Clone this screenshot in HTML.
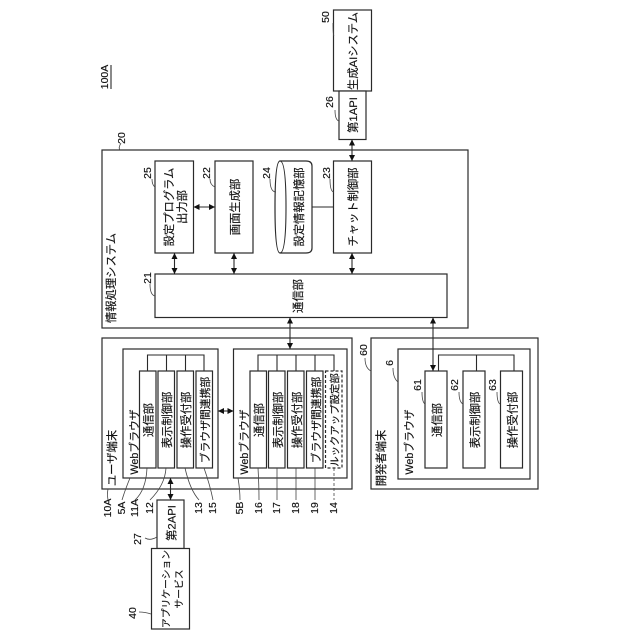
<!DOCTYPE html>
<html><head><meta charset="utf-8"><style>
html,body{margin:0;padding:0;background:#fff}
svg{display:block}
text{font-family:"Liberation Sans","Noto Sans CJK JP",sans-serif;font-size:11.3px;fill:#111;stroke:#111;stroke-width:.15;text-anchor:middle;dominant-baseline:central}
.n{font-size:10.5px}
.b{fill:#fff;stroke:#2a2a2a;stroke-width:1.2}
.l{fill:none;stroke:#2a2a2a;stroke-width:1.1}
.t{fill:none;stroke:#444;stroke-width:.8}
</style></head><body>
<svg width="640" height="640" viewBox="0 0 640 640" xmlns="http://www.w3.org/2000/svg">
<defs><marker id="a" viewBox="0 0 6 6" refX="6" refY="3" markerWidth="6" markerHeight="6" markerUnits="userSpaceOnUse" orient="auto-start-reverse"><path d="M0 0L6 3L0 6Z" fill="#111"/></marker></defs>

<!-- outer boxes -->
<rect class="b" x="102" y="150" width="366" height="178"/>
<rect class="b" x="102" y="338" width="250" height="151"/>
<rect class="b" x="371" y="338" width="167" height="151"/>
<rect class="b" x="123" y="349" width="95" height="129"/>
<rect class="b" x="233.500" y="349" width="113.500" height="129"/>
<rect class="b" x="398" y="349" width="132" height="130"/>

<!-- system blocks -->
<rect class="b" x="155" y="161" width="38.500" height="92"/>
<rect class="b" x="215" y="161" width="38" height="92"/>
<rect class="b" x="333.500" y="161" width="38" height="92"/>
<rect class="b" x="155" y="274" width="292" height="43.500"/>
<path class="b" d="M280 161H306Q312 161 312 166V248Q312 253 306 253H280Q275 253 275 207Q275 161 280 161Z"/>
<path class="l" d="M280 161Q286 161 286 207Q286 253 280 253"/>
<path class="l" d="M312 207H333.500"/>

<!-- top -->
<rect class="b" x="333.500" y="10" width="38" height="81"/>
<rect class="b" x="339" y="91" width="27" height="48.500"/>

<!-- bottom -->
<rect class="b" x="157" y="500" width="27" height="48.500"/>
<rect class="b" x="151.500" y="548.500" width="38" height="80.500"/>

<!-- buses -->
<path class="l" d="M147.500 371V355H204V371M166.500 355V371M185.500 355V371"/>
<path class="l" d="M258 371V355H334V371M277 355V371M296 355V371M315 355V371"/>
<path class="l" d="M438.500 371V355H514V371M476.500 355V371"/>

<!-- 5A blocks -->
<rect class="b" x="139.500" y="371" width="16.500" height="97"/>
<rect class="b" x="158" y="371" width="16.500" height="97"/>
<rect class="b" x="177" y="371" width="16.500" height="97"/>
<rect class="b" x="196" y="371" width="16.500" height="97"/>
<!-- 5B blocks -->
<rect class="b" x="250" y="371" width="16.500" height="97"/>
<rect class="b" x="268.500" y="371" width="16.500" height="97"/>
<rect class="b" x="287.500" y="371" width="16.500" height="97"/>
<rect class="b" x="306.500" y="371" width="16.500" height="97"/>
<rect class="b" x="325.500" y="371" width="16.500" height="97" stroke-dasharray="3 2"/>
<!-- dev blocks -->
<rect class="b" x="425" y="371" width="22" height="97"/>
<rect class="b" x="463" y="371" width="22" height="97"/>
<rect class="b" x="500.500" y="371" width="22" height="97"/>

<!-- arrows -->
<g class="l" marker-start="url(#a)" marker-end="url(#a)">
<path d="M193.500 207H215"/>
<path d="M174.500 253V274"/>
<path d="M234 253V274"/>
<path d="M352 253V274"/>
<path d="M352 139.500V161"/>
<path d="M290 317.500V349"/>
<path d="M433 317.500V371"/>
<path d="M218 411H233.500"/>
<path d="M170.500 478V500"/>
</g>

<!-- leader lines -->
<g class="t">
<path d="M121 143Q118 148 120 150"/>
<path d="M152 179Q152 185 155 187"/>
<path d="M210 179Q210 185 215 187"/>
<path d="M270 179Q270 192 276 192"/>
<path d="M330 179Q330 192 334 192"/>
<path d="M150 284Q150 295 155 296"/>
<path d="M333 23Q333 35 334 36"/>
<path d="M335 110Q335 120 339 121"/>
<path d="M365 358Q365 368 371 371"/>
<path d="M393 368Q393 378 398 382"/>
<path d="M422 392Q422 402 425 404"/>
<path d="M459 392Q459 402 463 404"/>
<path d="M497 392Q497 402 500 404"/>
<path d="M108 489Q107 494 108 500"/>
<path d="M130 478Q125 490 122 500"/>
<path d="M147 468Q146 490 135 500"/>
<path d="M166 468Q165 485 150 500"/>
<path d="M185 468Q190 490 199 500"/>
<path d="M204 468Q210 485 213 500"/>
<path d="M238 478Q240 490 240 500"/>
<path d="M258 468Q259 485 259 500"/>
<path d="M277 468V500"/>
<path d="M296 468V500"/>
<path d="M315 468V500"/>
<path d="M334 468V500" stroke-dasharray="3 2"/>
<path d="M157 537Q150 541 145 538"/>
<path d="M151 614Q145 612 139 612"/>
</g>

<!-- labels in boxes -->
<g transform="translate(1.8,0)">
<text transform="translate(110,278) rotate(-90)">情報処理システム</text>
<text transform="translate(168,207) rotate(-90)">設定プログラム</text>
<text transform="translate(181,207) rotate(-90)">出力部</text>
<text transform="translate(234,207) rotate(-90)">画面生成部</text>
<text transform="translate(298,207) rotate(-90)">設定情報記憶部</text>
<text transform="translate(352,207) rotate(-90)">チャット制御部</text>
<text transform="translate(297,296) rotate(-90)">通信部</text>
<text transform="translate(352,115) rotate(-90)">第1API</text>
<text transform="translate(352,51) rotate(-90)">生成AIシステム</text>

<text transform="translate(111,458) rotate(-90)">ユーザ端末</text>
<text transform="translate(133,442) rotate(-90)" style="font-size:10.8px">Webブラウザ</text>
<text transform="translate(147.500,420) rotate(-90)">通信部</text>
<text transform="translate(166,420) rotate(-90)">表示制御部</text>
<text transform="translate(185,420) rotate(-90)">操作受付部</text>
<text transform="translate(204,420) rotate(-90)" style="font-size:10.8px">ブラウザ間連携部</text>

<text transform="translate(243,442) rotate(-90)" style="font-size:10.8px">Webブラウザ</text>
<text transform="translate(258,420) rotate(-90)">通信部</text>
<text transform="translate(277,420) rotate(-90)">表示制御部</text>
<text transform="translate(296,420) rotate(-90)">操作受付部</text>
<text transform="translate(315,420) rotate(-90)" style="font-size:10.8px">ブラウザ間連携部</text>
<text transform="translate(334,420) rotate(-90)" style="font-size:10.4px">ルックアップ設定部</text>

<text transform="translate(380,458) rotate(-90)">開発者端末</text>
<text transform="translate(408,442) rotate(-90)" style="font-size:10.8px">Webブラウザ</text>
<text transform="translate(436,420) rotate(-90)">通信部</text>
<text transform="translate(474,420) rotate(-90)">表示制御部</text>
<text transform="translate(511.500,420) rotate(-90)">操作受付部</text>

<text transform="translate(170.500,523) rotate(-90)">第2API</text>
<text transform="translate(165,589) rotate(-90)" style="font-size:9.8px">アプリケーション</text>
<text transform="translate(178,589) rotate(-90)" style="font-size:9.8px">サービス</text>
</g>

<!-- reference numerals -->
<g>
<text class="n" transform="translate(105,77) rotate(-90)">100A</text>
<path class="l" d="M111 65V89"/>
<text class="n" transform="translate(122,138) rotate(-90)">20</text>
<text class="n" transform="translate(148,173) rotate(-90)">25</text>
<text class="n" transform="translate(207,173) rotate(-90)">22</text>
<text class="n" transform="translate(267,173) rotate(-90)">24</text>
<text class="n" transform="translate(327,173) rotate(-90)">23</text>
<text class="n" transform="translate(148,278) rotate(-90)">21</text>
<text class="n" transform="translate(330,102) rotate(-90)">26</text>
<text class="n" transform="translate(326,17) rotate(-90)">50</text>
<text class="n" transform="translate(364,350) rotate(-90)">60</text>
<text class="n" transform="translate(390,363) rotate(-90)">6</text>
<text class="n" transform="translate(418,385) rotate(-90)">61</text>
<text class="n" transform="translate(455,385) rotate(-90)">62</text>
<text class="n" transform="translate(493,385) rotate(-90)">63</text>
<text class="n" transform="translate(108,508) rotate(-90)">10A</text>
<text class="n" transform="translate(122,508) rotate(-90)">5A</text>
<text class="n" transform="translate(135,508) rotate(-90)">11A</text>
<text class="n" transform="translate(150,508) rotate(-90)">12</text>
<text class="n" transform="translate(199,508) rotate(-90)">13</text>
<text class="n" transform="translate(213,508) rotate(-90)">15</text>
<text class="n" transform="translate(240,508) rotate(-90)">5B</text>
<text class="n" transform="translate(259,508) rotate(-90)">16</text>
<text class="n" transform="translate(277,508) rotate(-90)">17</text>
<text class="n" transform="translate(296,508) rotate(-90)">18</text>
<text class="n" transform="translate(315,508) rotate(-90)">19</text>
<text class="n" transform="translate(334,508) rotate(-90)">14</text>
<text class="n" transform="translate(138,539) rotate(-90)">27</text>
<text class="n" transform="translate(133,613) rotate(-90)">40</text>
</g>
</svg>
</body></html>
